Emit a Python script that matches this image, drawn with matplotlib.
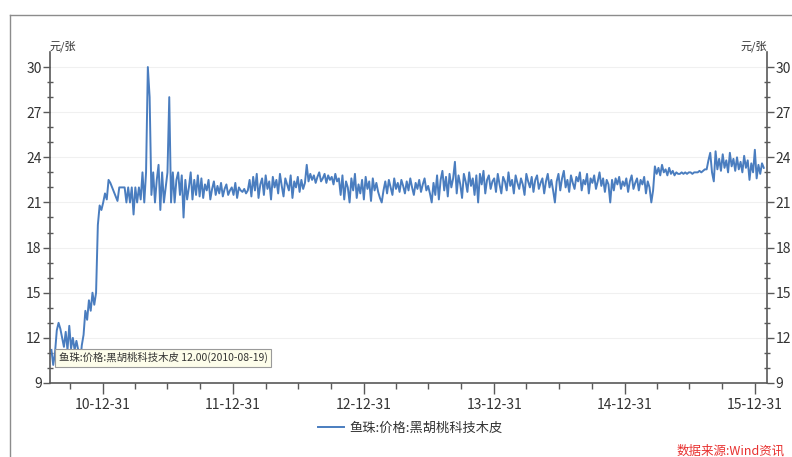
import matplotlib
matplotlib.use("Agg")
import matplotlib.pyplot as plt
import matplotlib.dates as mdates
from matplotlib.lines import Line2D
import pandas as pd

plt.rcParams["font.family"] = ["Noto Sans CJK SC", "DejaVu Sans"]

# prices, one value every 5 days starting 2010-08-09
start_date = "2010-08-09"
step = "5D"

price_2010 = [
    11.2, 10.2, 11.0, 12.5, 13.0, 12.6, 12.0, 11.4, 12.4, 11.2,
    12.8, 11.3, 12.0, 11.2, 11.8, 11.2, 10.2, 11.5, 12.2, 13.8,
    13.2, 14.5, 13.8, 15.0, 14.2, 15.0, 19.5, 20.8, 20.5,
]
price_2011 = [
    21.0, 21.6, 21.2, 22.5, 22.3, 22.0, 21.7, 21.4, 21.1,
    22.0, 22.0, 22.0, 22.0,
    21.0, 22.0, 21.0, 22.0, 20.2, 22.0, 21.0, 22.0, 21.2,
    23.0, 21.0, 23.0, 30.0, 28.0, 21.5, 23.0, 21.0, 22.5, 23.5,
    20.5, 23.0, 21.0, 22.0, 23.0, 28.0, 21.0, 23.0, 21.0, 22.5,
    23.0, 21.5, 22.8, 20.0, 22.5, 21.2, 22.0, 23.0, 21.2, 22.5, 21.5, 22.8, 21.4,
    22.6, 21.3, 22.2, 21.8, 22.5, 21.2, 21.9, 22.4, 21.5, 22.1, 21.6, 22.3,
    21.4, 21.9, 22.2, 21.5, 21.8, 22.0,
]
price_2012 = [
    21.5, 22.3, 21.3, 22.0,
    21.8, 21.7, 21.9, 21.6, 21.8,
    22.5, 21.4, 22.7, 21.8, 22.9, 21.3, 22.2, 22.6, 21.5, 22.8, 21.9, 22.4,
    21.2, 22.7, 22.0, 22.5, 21.6, 22.9, 22.1, 21.4, 22.6, 22.2, 21.8, 22.8,
    21.3, 22.4, 22.0, 22.7, 21.7, 22.5, 21.9, 22.3,
    23.5,
    22.4, 22.9, 22.5, 22.8, 22.3, 22.7, 23.0, 22.4, 22.6, 22.9, 22.3, 22.8,
    22.5, 22.7, 22.2, 22.9, 22.4, 22.6,
    21.5, 22.8, 21.2, 22.4, 22.0, 21.0, 22.6, 21.8, 22.9, 21.3, 22.2, 21.6, 22.5,
]
price_2013 = [
    21.2, 22.7, 21.9, 22.4, 21.1, 22.6, 21.8, 22.3,
    21.7, 21.3, 21.0,
    21.8, 22.4, 21.6, 22.5, 22.0, 21.5, 22.6, 21.9, 22.3, 21.7, 22.5, 22.1,
    21.6, 22.4, 21.8, 22.6, 22.0, 21.5, 22.3, 21.9, 22.5, 21.7, 22.2, 22.6,
    21.8, 22.1, 21.6,
    21.0,
    22.3, 21.5, 22.8, 21.2, 22.5, 23.1, 21.8, 22.7, 21.4, 22.9, 22.0, 22.6,
    23.7, 21.6, 22.8, 22.2, 21.3, 22.9, 22.4, 21.7, 23.0, 22.1, 22.6, 21.5, 22.8,
    21.0, 22.9, 22.2, 23.1, 21.6, 22.5, 22.8, 21.9, 22.4,
]
price_2014 = [
    22.6, 21.7, 22.9, 22.2, 21.6, 22.7, 22.4, 21.8, 23.0, 22.1, 22.5, 21.6,
    22.8, 22.3, 21.9, 22.6, 22.2, 21.5, 22.9, 22.4, 22.0, 22.7, 21.7, 22.5,
    22.8, 21.9, 22.3, 22.6, 21.6, 22.4, 22.9, 22.0, 22.5, 21.8,
    21.0,
    22.4, 22.9, 21.8, 22.6, 23.1, 22.0, 22.5, 21.7, 22.8, 22.3, 21.9, 22.7,
    22.4, 23.0, 21.8, 22.5, 22.2, 22.9, 21.6, 22.6, 22.3, 22.8, 21.9, 22.4,
    23.0, 22.1, 22.6, 21.7, 22.5, 22.2,
    21.0,
    22.5, 21.8, 22.6, 22.2, 22.7, 21.9, 22.4,
]
price_2015 = [
    22.1, 22.6, 21.7, 22.4, 22.8, 21.9, 22.3, 22.6, 21.8, 22.5, 22.2, 22.7,
    21.6, 22.4, 22.0,
    21.0, 21.8,
    23.4, 22.9, 23.3, 22.8, 23.5, 23.0, 23.2, 22.8, 23.3, 22.9, 23.1, 22.8,
    23.0, 22.9, 22.9, 23.0, 22.9, 23.0, 22.9, 23.0, 23.0, 22.9, 23.0, 23.0,
    23.0, 23.1, 23.0, 23.1, 23.2, 23.2,
    23.8, 24.3, 23.0, 22.4, 24.4, 23.2, 23.9, 23.1, 24.2, 23.3, 23.8, 23.0,
    24.3, 23.4, 23.9, 23.1, 24.0, 23.2, 23.7, 23.0, 24.1, 23.3, 23.8, 22.5,
    23.6, 23.0,
]
price_2016 = [24.5, 22.6, 23.5, 22.9, 23.6, 23.3]

series_name = "鱼珠:价格:黑胡桃科技木皮"
unit = "元/张"
tooltip = "鱼珠:价格:黑胡桃科技木皮 12.00(2010-08-19)"
source = "数据来源:Wind资讯"
y_ticks = [9, 12, 15, 18, 21, 24, 27, 30]

prices = price_2010 + price_2011 + price_2012 + price_2013 + price_2014 + price_2015 + price_2016
dates = pd.date_range(start_date, periods=len(prices), freq=step)

LINE = "#4a7dbf"
AXIS = "#595959"
TEXT = "#333333"

fig = plt.figure(figsize=(7.92, 4.57), dpi=100)
ax = fig.add_axes([50 / 792, 74 / 457, 717 / 792, 331 / 457])

ax.plot(dates, prices, color=LINE, lw=1.4, label=series_name)

ax.set_ylim(9, 31)
ax.set_yticks(y_ticks)
ax.set_yticks(range(9, 31), minor=True)
ax.set_xlim(pd.Timestamp("2010-08-05"), pd.Timestamp("2016-02-03"))
year_ends = pd.date_range("2010-12-31", "2015-12-31", freq="YE")
quarter_ends = pd.date_range("2010-09-30", "2016-01-01", freq="QE")
ax.set_xticks(year_ends)
ax.set_xticks(quarter_ends, minor=True)
ax.xaxis.set_major_formatter(mdates.DateFormatter("%y-%m-%d"))

for t in y_ticks[1:]:
    ax.axhline(t, color="#f0f0f0", lw=0.8, zorder=0)

for side in ("left", "right", "bottom"):
    ax.spines[side].set_color(AXIS)
    ax.spines[side].set_linewidth(1.2)
ax.spines["top"].set_visible(False)

ax.tick_params(axis="y", which="major", direction="out", length=5, width=1, color=AXIS,
               labelsize=10, labelcolor=TEXT, right=True, labelright=True, pad=1)
ax.tick_params(axis="y", which="minor", direction="inout", length=5, width=1, color=AXIS,
               right=True)
ax.tick_params(axis="x", which="major", direction="out", length=8, width=1, color=AXIS,
               labelsize=10, labelcolor=TEXT, pad=3)
ax.tick_params(axis="x", which="minor", direction="out", length=4, width=1, color=AXIS)

ax.text(0.0, 1.0, unit, transform=ax.transAxes, ha="left", va="bottom", fontsize=8, color=TEXT)
ax.text(1.0, 1.0, unit, transform=ax.transAxes, ha="right", va="bottom", fontsize=8, color=TEXT)

ax.text(0.012, 10.67, tooltip, transform=ax.get_yaxis_transform(), ha="left", va="center",
        fontsize=7.5, color=TEXT,
        bbox=dict(boxstyle="square,pad=0.35", facecolor="#fdfdea", edgecolor="#9a9a9a", lw=0.8))

fig.legend(loc="center", bbox_to_anchor=(410 / 792, 1 - 428 / 457), frameon=False,
           fontsize=9.5, handlelength=2.0, handletextpad=0.4, labelcolor=TEXT)

fig.text(785 / 792, 1 - 451 / 457, source, ha="right", va="center", fontsize=9,
         color="#e8302f", style="italic")

# outer frame of the screenshot
fig.add_artist(Line2D([10 / 792, 1.0], [1 - 15 / 457, 1 - 15 / 457], color="#8c8c8c", lw=1))
fig.add_artist(Line2D([10 / 792, 10 / 792], [0.0, 1 - 15 / 457], color="#8c8c8c", lw=1))

fig.savefig("out.png", dpi=100)
